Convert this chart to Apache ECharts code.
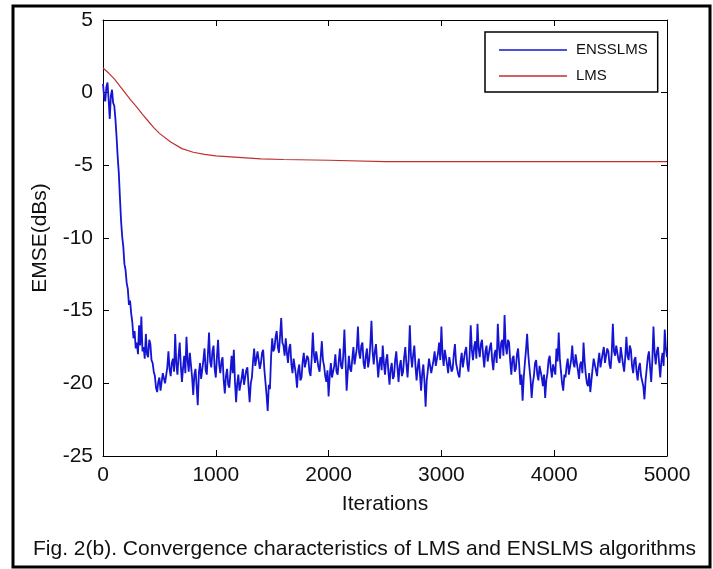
<!DOCTYPE html>
<html>
<head>
<meta charset="utf-8">
<script src="https://cdn.jsdelivr.net/npm/echarts@6/dist/echarts.min.js"></script>
<style>
html,body{margin:0;padding:0;background:#fff;}
#chart{width:713px;height:569px;}
</style>
</head>
<body>
<div id="chart"></div>
<script>
// ---- data ----
const xTicks = [0, 1000, 2000, 3000, 4000, 5000];
const yTicks = [-25, -20, -15, -10, -5, 0, 5];
const enssStep = 10; // iteration spacing of sampled ENSSLMS values
const enssValues = [
 0.6,-0.3,-0.6,0.4,0.7,-0.5,-1.8,-0.2,0.2,-0.7,
 -0.9,-1.8,-3.0,-4.4,-5.5,-7.2,-8.8,-9.9,-10.6,-11.8,
 -12.2,-13.1,-13.5,-14.6,-14.3,-15.2,-15.8,-16.9,-16.4,-17.6,
 -17.2,-18.0,-16.0,-17.4,-15.4,-17.8,-17.5,-18.3,-16.6,-18.0,
 -18.2,-17.0,-17.3,-18.4,-18.6,-19.2,-19.5,-20.3,-20.6,-19.9,
 -19.6,-20.5,-20.4,-19.3,-19.2,-20.0,-20.1,-18.9,-17.8,-19.0,
 -19.5,-18.6,-18.3,-19.2,-16.6,-18.7,-19.4,-18.1,-17.2,-18.8,
 -19.9,-18.9,-18.1,-19.3,-16.8,-18.4,-19.2,-17.9,-18.0,-19.6,
 -20.8,-19.4,-19.0,-20.2,-21.5,-19.3,-18.6,-19.7,-19.8,-18.4,
 -17.6,-19.1,-19.4,-18.0,-16.5,-18.5,-18.9,-17.8,-17.4,-19.0,
 -19.6,-18.2,-17.0,-18.7,-19.3,-18.5,-18.2,-19.8,-20.7,-19.5,
 -19.0,-20.1,-20.3,-19.2,-18.1,-19.3,-17.7,-19.9,-21.3,-20.0,
 -19.4,-20.5,-20.6,-19.6,-19.0,-20.1,-20.2,-19.1,-18.9,-20.2,
 -21.3,-20.0,-19.6,-18.5,-17.6,-18.8,-18.9,-17.8,-17.9,-19.0,
 -18.6,-17.9,-17.7,-19.0,-19.9,-20.8,-21.9,-20.1,-20.4,-18.2,
 -16.9,-17.8,-17.6,-16.8,-16.4,-17.5,-17.9,-16.7,-15.5,-17.2,
 -17.4,-18.1,-16.9,-17.9,-18.6,-17.6,-17.3,-18.7,-19.3,-18.3,
 -18.2,-19.4,-20.3,-19.1,-18.7,-19.8,-19.6,-18.5,-17.9,-18.9,
 -19.0,-18.1,-18.3,-19.2,-19.5,-18.3,-16.5,-18.0,-18.6,-17.8,
 -17.7,-18.9,-19.2,-18.2,-17.1,-18.4,-18.8,-19.5,-19.9,-19.1,
 -20.9,-19.5,-18.6,-19.6,-19.7,-18.8,-18.0,-19.2,-19.4,-18.5,
 -17.6,-18.8,-19.0,-18.1,-16.3,-18.4,-20.5,-19.2,-18.1,-19.0,
 -19.2,-18.3,-17.5,-18.7,-18.6,-17.6,-16.1,-17.9,-18.3,-17.4,
 -17.2,-18.6,-19.0,-18.1,-17.6,-18.9,-18.4,-17.3,-15.7,-17.8,
 -18.7,-17.8,-17.3,-18.5,-19.6,-18.6,-18.2,-19.1,-17.4,-18.6,
 -19.4,-18.4,-18.0,-19.2,-20.1,-19.0,-18.6,-19.7,-19.5,-18.4,
 -17.8,-18.9,-19.9,-18.8,-18.4,-19.5,-19.2,-18.2,-17.5,-18.7,
 -19.6,-18.3,-16.0,-18.1,-18.9,-18.0,-17.4,-18.8,-19.8,-18.9,
 -18.3,-19.4,-20.5,-19.3,-18.7,-19.9,-21.6,-19.8,-19.1,-18.3,
 -18.2,-19.3,-19.4,-18.4,-17.8,-18.8,-18.9,-17.9,-17.2,-18.4,
 -16.1,-18.0,-18.8,-17.7,-17.6,-18.7,-19.3,-18.2,-18.1,-19.2,
 -19.0,-18.0,-17.3,-18.6,-18.5,-19.4,-19.6,-18.5,-17.9,-18.9,
 -18.8,-17.8,-17.5,-18.7,-19.2,-18.1,-16.0,-17.7,-18.4,-17.5,
 -17.1,-18.3,-15.9,-17.6,-18.2,-17.3,-17.0,-18.1,-18.9,-17.8,
 -17.4,-18.5,-18.6,-17.5,-17.2,-18.4,-19.1,-18.0,-17.7,-18.6,
 -15.9,-17.5,-18.3,-17.2,-17.0,-18.1,-15.3,-17.4,-18.0,-17.0,
 -17.2,-18.5,-19.4,-18.3,-18.1,-19.2,-19.0,-18.0,-17.6,-18.8,
 -20.1,-19.4,-21.2,-19.6,-18.6,-17.7,-16.6,-18.0,-18.9,-19.7,
 -21.0,-20.0,-19.5,-18.6,-18.4,-19.4,-19.8,-18.8,-18.7,-19.6,
 -20.2,-19.4,-21.0,-19.8,-19.3,-18.4,-18.1,-19.0,-19.6,-18.7,
 -18.6,-19.4,-17.6,-18.5,-16.5,-18.3,-19.2,-20.0,-20.5,-19.4,
 -19.6,-18.8,-18.3,-19.4,-19.5,-18.4,-17.4,-18.6,-18.9,-18.0,
 -18.0,-19.1,-19.7,-18.7,-18.5,-19.3,-17.2,-18.5,-19.4,-20.0,
 -20.2,-19.3,-20.6,-19.8,-19.0,-18.3,-18.2,-19.1,-19.5,-18.5,
 -17.9,-18.9,-18.8,-17.9,-17.5,-18.6,-18.6,-17.6,-17.8,-18.7,
 -19.0,-17.9,-15.9,-17.8,-18.1,-17.4,-17.3,-18.4,-18.6,-17.5,
 -17.6,-18.7,-19.2,-18.2,-16.8,-18.1,-18.4,-17.4,-17.7,-18.8,
 -19.3,-18.4,-18.2,-19.2,-19.8,-18.9,-18.6,-19.5,-19.4,-20.2,
 -21.1,-19.8,-19.0,-18.2,-17.8,-18.9,-19.9,-18.4,-16.1,-17.9,
 -18.7,-17.8,-17.5,-18.6,-19.6,-18.5,-17.9,-18.8,-16.3,-17.6,
 -18.2
];
const lmsIters = [0,50,100,150,200,250,300,350,400,450,500,600,700,800,900,1000,1200,1400,1600,2000,2500,3000,4000,5000];
const lmsValues = [1.7,1.35,0.95,0.45,-0.05,-0.55,-1.0,-1.5,-1.95,-2.4,-2.8,-3.4,-3.85,-4.1,-4.25,-4.35,-4.45,-4.55,-4.6,-4.65,-4.75,-4.75,-4.75,-4.75];
const seriesNames = ['ENSSLMS', 'LMS'];
const caption = 'Fig. 2(b). Convergence characteristics of LMS and ENSLMS algorithms';

const enssData = enssValues.map((v, i) => [i * enssStep, v]);
const lmsData = lmsIters.map((x, i) => [x, lmsValues[i]]);

const FONT = "'Liberation Sans', Arial, Helvetica, sans-serif";
const BLUE = '#1414d2';
const RED = '#c03030';
const chart = echarts.init(document.getElementById('chart'), null, {renderer: 'canvas'});

const baseX = {
  type: 'value', min: xTicks[0], max: xTicks[xTicks.length - 1], interval: 1000,
  axisLine: {show: true, onZero: false, lineStyle: {color: '#000', width: 1}},
  axisTick: {show: true, inside: true, length: 6, lineStyle: {color: '#000'}},
  splitLine: {show: false}
};
const baseY = {
  type: 'value', min: yTicks[0], max: yTicks[yTicks.length - 1], interval: 5,
  axisLine: {show: true, onZero: false, lineStyle: {color: '#000', width: 1}},
  axisTick: {show: true, inside: true, length: 6, lineStyle: {color: '#000'}},
  splitLine: {show: false}
};

chart.setOption({
  animation: false,
  backgroundColor: '#fff',
  textStyle: {fontFamily: FONT},
  title: {
    text: caption, left: 28, top: 534,
    textStyle: {fontFamily: FONT, fontSize: 21, fontWeight: 'normal', color: '#111'}
  },
  grid: {left: 103, right: 46, top: 20, bottom: 113, containLabel: false},
  legend: {
    data: seriesNames.map(n => ({name: n, icon: 'rect'})),
    orient: 'vertical', left: 485, top: 32,
    padding: [10, 10, 8, 14],
    itemWidth: 68, itemHeight: 1.6, itemGap: 10,
    borderColor: '#000', borderWidth: 1.5, backgroundColor: '#fff',
    textStyle: {fontFamily: FONT, fontSize: 15, color: '#111', padding: [0, 0, 0, 4], lineHeight: 16}
  },
  xAxis: [
    Object.assign({}, baseX, {
      position: 'bottom',
      name: 'Iterations', nameLocation: 'middle', nameGap: 38,
      nameTextStyle: {fontFamily: FONT, fontSize: 21, color: '#111'},
      axisLabel: {show: true, margin: 9, fontFamily: FONT, fontSize: 21, color: '#111',
                  formatter: v => String(v)}
    }),
    Object.assign({}, baseX, {position: 'top', axisLabel: {show: false}})
  ],
  yAxis: [
    Object.assign({}, baseY, {
      position: 'left',
      name: 'EMSE(dBs)', nameLocation: 'middle', nameGap: 52,
      nameTextStyle: {fontFamily: FONT, fontSize: 21, color: '#111'},
      axisLabel: {show: true, margin: 10, fontFamily: FONT, fontSize: 21, color: '#111'}
    }),
    Object.assign({}, baseY, {position: 'right', axisLabel: {show: false}})
  ],
  series: [
    {
      name: seriesNames[0], type: 'line', data: enssData,
      xAxisIndex: 0, yAxisIndex: 0,
      symbol: 'none', showSymbol: false,
      lineStyle: {color: BLUE, width: 1.8},
      itemStyle: {color: BLUE},
      z: 3
    },
    {
      name: seriesNames[1], type: 'line', data: lmsData,
      xAxisIndex: 0, yAxisIndex: 0,
      symbol: 'none', showSymbol: false,
      lineStyle: {color: RED, width: 1.2},
      itemStyle: {color: RED},
      z: 2
    }
  ],
  graphic: [
    {type: 'rect', shape: {x: 13, y: 6, width: 697, height: 561},
     style: {fill: null, stroke: '#000', lineWidth: 3}, silent: true, z: 10}
  ]
});
</script>
</body>
</html>
